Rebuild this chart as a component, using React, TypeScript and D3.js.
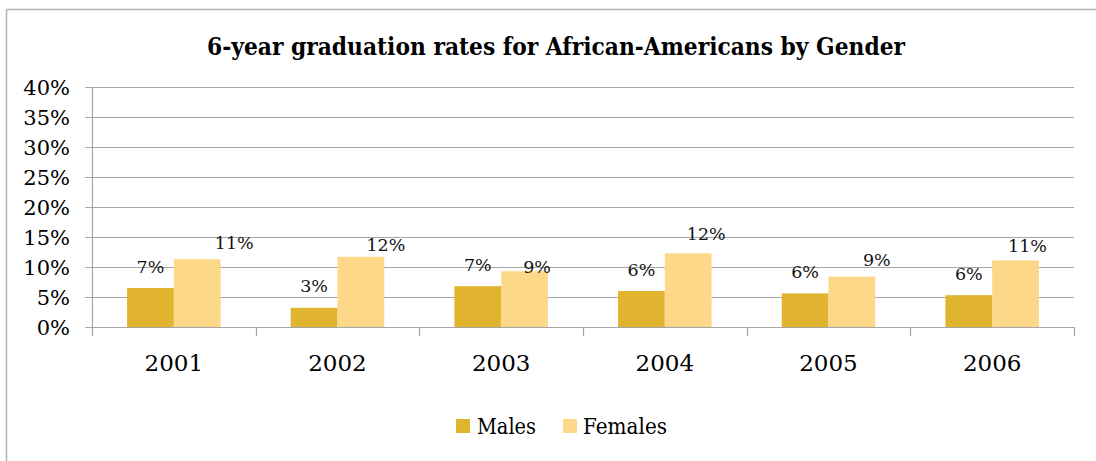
import React from "react";
import * as d3 from "d3";

const years = ["2001", "2002", "2003", "2004", "2005", "2006"];
const males = [6.5, 3.2, 6.8, 6.0, 5.6, 5.3];
const females = [11.3, 11.7, 9.3, 12.3, 8.4, 11.1];
const maleLabels = ["7%", "3%", "7%", "6%", "6%", "6%"];
const femaleLabels = ["11%", "12%", "9%", "12%", "9%", "11%"];
const yTicks = [0, 5, 10, 15, 20, 25, 30, 35, 40];
const seriesNames = ["Males", "Females"];
const title = "6-year graduation rates for African-Americans by Gender";

// manual label nudges (as placed in the original chart)
const femaleLabelDx = [37, 25, 12.5, 18, 25, 12];
const femaleLabelDy = [4.8, 9.5, 17.2, 2.5, 4.5, 6.9];

const W = 1096;
const H = 461;
const colors = ["#E1B42F", "#FDD889"];
const serif = "'DejaVu Serif', 'Liberation Serif', serif";

export default function App() {
  const x = d3.scaleBand<string>().domain(years).range([92, 1074]).padding(0);
  const y = d3.scaleLinear().domain([0, 40]).range([327, 87]);
  const bw = x.bandwidth();
  const barW = bw / 3.5;
  const x1 = d3
    .scaleBand<string>()
    .domain(seriesNames)
    .range([barW * 0.75, bw - barW * 0.75])
    .padding(0);

  const grid = "#A6A6A6";

  return (
    <svg
      width={W}
      height={H}
      style={{ position: "absolute", left: 0, top: 0, background: "#fff" }}
    >
      <rect x={0} y={0} width={W} height={H} fill="#fff" />
      {/* frame */}
      <line x1={6.5} y1={9.5} x2={W} y2={9.5} stroke="#B3B3B3" strokeWidth={1.5} />
      <line x1={6.5} y1={9.5} x2={6.5} y2={H} stroke="#B3B3B3" strokeWidth={1.5} />

      {/* title */}
      <text
        x={556}
        y={55}
        textAnchor="middle"
        fontFamily={serif}
        fontWeight="bold"
        fontSize={24}
        textLength={698}
        lengthAdjust="spacingAndGlyphs"
        fill="#000"
      >
        {title}
      </text>

      {/* gridlines and y ticks */}
      {yTicks.map((t) => (
        <g key={t}>
          <line
            x1={85}
            x2={1074}
            y1={Math.round(y(t)) + 0.5}
            y2={Math.round(y(t)) + 0.5}
            stroke={grid}
            strokeWidth={1.2}
          />
          <text
            x={70}
            y={y(t) + 7.7}
            textAnchor="end"
            fontFamily={serif}
            fontSize={21}
            fill="#000"
          >
            {t}%
          </text>
        </g>
      ))}

      {/* axes */}
      <line x1={92.5} x2={92.5} y1={87} y2={336} stroke={grid} strokeWidth={1.2} />
      {years.map((yr, i) => (
        <line
          key={"t" + yr}
          x1={Math.round((x(yr) as number) + bw) + 0.5}
          x2={Math.round((x(yr) as number) + bw) + 0.5}
          y1={327}
          y2={336}
          stroke={grid}
          strokeWidth={1.2}
        />
      ))}

      {/* bars */}
      {years.map((yr, i) => {
        const gx = x(yr) as number;
        const mx = gx + (x1("Males") as number);
        const fx = gx + (x1("Females") as number);
        return (
          <g key={yr}>
            <rect
              x={mx}
              y={y(males[i])}
              width={x1.bandwidth()}
              height={y(0) - y(males[i])}
              fill={colors[0]}
            />
            <rect
              x={fx}
              y={y(females[i])}
              width={x1.bandwidth()}
              height={y(0) - y(females[i])}
              fill={colors[1]}
            />
            <text
              x={mx + x1.bandwidth() / 2}
              y={y(males[i]) - 15.5}
              textAnchor="middle"
              fontFamily={serif}
              fontSize={17.5}
              fill="#111"
            >
              {maleLabels[i]}
            </text>
            <text
              x={fx + x1.bandwidth() / 2 + femaleLabelDx[i]}
              y={y(females[i]) - 15.5 + femaleLabelDy[i]}
              textAnchor="middle"
              fontFamily={serif}
              fontSize={17.5}
              fill="#111"
            >
              {femaleLabels[i]}
            </text>
            <text
              x={gx + bw / 2}
              y={371}
              textAnchor="middle"
              fontFamily={serif}
              fontSize={23}
              fill="#000"
            >
              {yr}
            </text>
          </g>
        );
      })}

      {/* legend */}
      <rect x={456} y={419} width={14} height={14} fill={colors[0]} />
      <text
        x={477}
        y={434}
        fontFamily={serif}
        fontSize={23}
        textLength={59}
        lengthAdjust="spacingAndGlyphs"
        fill="#000"
      >
        {seriesNames[0]}
      </text>
      <rect x={563} y={419} width={14} height={14} fill={colors[1]} />
      <text
        x={583}
        y={434}
        fontFamily={serif}
        fontSize={23}
        textLength={84}
        lengthAdjust="spacingAndGlyphs"
        fill="#000"
      >
        {seriesNames[1]}
      </text>
    </svg>
  );
}
